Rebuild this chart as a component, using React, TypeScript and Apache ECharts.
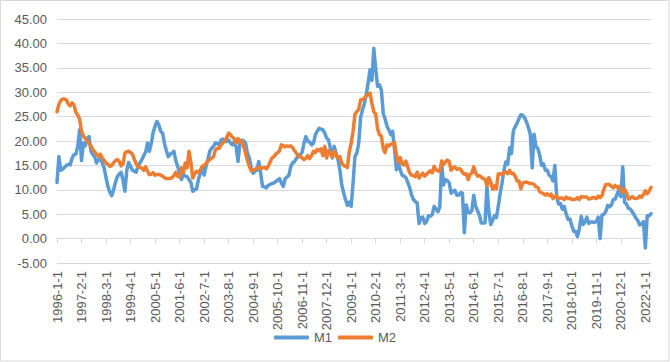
import React, { useEffect, useRef } from "react";
import * as echarts from "echarts";

// Monthly YoY growth (%), 1996-01 .. 2022-04
const startYear = 1996;

const m1: number[] = [
  // 1996
  11.5, 16.8, 14.0, 14.2, 14.6, 15.0, 15.2, 15.1, 16.5, 17.2, 17.3, 18.9,
  // 1997
  22.3, 16.0, 19.6, 19.0, 20.6, 20.9, 17.9, 17.2, 16.8, 15.5, 16.2, 16.5,
  // 1998
  15.5, 14.5, 12.5, 10.7, 9.5, 8.8, 10.0, 11.5, 12.7, 13.2, 13.6, 12.0,
  // 1999
  9.7, 14.0, 15.6, 14.8, 14.0, 13.8, 13.6, 15.0, 15.5, 16.2, 17.0, 17.7,
  // 2000
  19.6, 17.9, 19.5, 21.8, 23.0, 24.0, 23.3, 22.0, 21.6, 19.5, 18.0, 16.8,
  // 2001
  17.3, 17.5, 17.9, 16.0, 14.8, 13.5, 12.1, 13.2, 12.8, 12.7, 12.1, 11.5,
  // 2002
  9.7, 10.0, 10.2, 12.1, 13.4, 14.5, 13.0, 14.8, 16.2, 17.9, 18.5, 18.9,
  // 2003
  19.6, 19.5, 19.2, 20.2, 20.4, 20.0, 19.9, 20.2, 19.6, 19.2, 19.9, 18.8,
  // 2004
  15.8, 19.6, 20.2, 20.0, 19.6, 17.5, 16.5, 14.5, 13.4, 13.8, 14.0, 15.8,
  // 2005
  13.4, 10.7, 10.6, 10.4, 10.9, 11.1, 11.3, 11.4, 11.7, 12.0, 12.3, 11.4,
  // 2006
  10.7, 12.3, 12.6, 13.0, 14.8, 15.5, 15.8, 16.5, 16.8, 17.2, 17.7, 19.6,
  // 2007
  20.9, 19.9, 19.8, 19.2, 19.5, 21.3, 22.0, 22.6, 22.4, 22.3, 21.6, 20.6,
  // 2008
  20.2, 18.5, 16.5, 18.9, 17.5, 16.2, 14.1, 11.0, 9.4, 8.0, 6.8, 7.5,
  // 2009
  6.6, 11.4, 16.8, 17.5, 19.5, 24.8, 26.4, 27.7, 29.5, 32.0, 34.6, 32.4,
  // 2010
  39.0, 34.8, 31.2, 31.5, 30.5, 25.7, 24.5, 23.0, 22.3, 21.3, 22.0, 18.2,
  // 2011
  14.1, 15.5, 14.1, 13.0, 12.8, 12.5, 11.5, 10.5, 9.0, 8.0, 7.6, 7.3,
  // 2012
  3.1, 4.3, 4.4, 3.1, 3.5, 4.7, 4.6, 4.9, 6.6, 6.1, 5.5, 6.5,
  // 2013
  15.3, 11.0, 12.1, 11.9, 11.4, 9.3, 9.7, 9.9, 8.9, 8.9, 9.4, 9.3,
  // 2014
  1.2, 6.9, 5.4, 5.3, 5.7, 8.9, 6.7, 5.7, 4.8, 3.2, 3.2, 3.2,
  // 2015
  10.6, 5.6, 2.9, 3.7, 4.7, 4.3, 6.6, 9.3, 11.4, 14.0, 15.7, 15.2,
  // 2016
  18.6, 17.4, 22.1, 22.9, 23.7, 24.6, 25.4, 25.3, 24.7, 23.9, 22.7, 21.4,
  // 2017
  14.5, 21.4, 18.8, 18.5, 17.0, 15.0, 15.3, 14.0, 14.0, 13.0, 12.7, 11.8,
  // 2018
  15.0, 8.5, 7.1, 7.2, 6.0, 6.6, 5.1, 3.9, 4.0, 2.7, 1.5, 1.5,
  // 2019
  0.4, 2.0, 4.6, 2.9, 3.4, 4.4, 3.1, 3.4, 3.4, 3.3, 3.5, 4.4,
  // 2020
  0.0, 4.8, 5.0, 5.5, 6.8, 6.5, 6.9, 8.0, 8.1, 9.1, 10.0, 8.6,
  // 2021
  14.7, 7.4, 7.1, 6.2, 6.1, 5.5, 4.9, 4.2, 3.7, 2.8, 3.0, 3.5,
  // 2022
  -1.9, 4.7, 4.7, 5.1,
];

const m2: number[] = [
  // 1996
  26.0, 27.5, 28.3, 28.6, 28.6, 28.4, 27.6, 27.2, 27.8, 27.4, 25.9, 25.3,
  // 1997
  24.5, 22.0, 21.0, 20.5, 20.0, 19.5, 19.0, 18.2, 17.8, 17.3, 16.9, 17.3,
  // 1998
  16.5, 16.0, 15.5, 15.2, 14.8, 15.0, 15.5, 16.0, 16.2, 15.8, 14.9, 15.3,
  // 1999
  17.5, 17.8, 17.9, 17.6, 17.3, 16.3, 15.3, 14.8, 14.6, 14.4, 14.0, 14.7,
  // 2000
  13.8, 13.1, 13.2, 13.5, 13.0, 13.1, 13.2, 13.0, 12.8, 12.5, 12.3, 12.3,
  // 2001
  12.3, 12.5, 12.9, 13.6, 12.8, 12.6, 14.5, 13.5, 15.5, 14.5, 17.9, 15.6,
  // 2002
  12.4, 13.2, 13.8, 13.6, 14.0, 14.8, 15.0, 15.3, 15.9, 16.2, 16.5, 16.8,
  // 2003
  18.2, 18.5, 18.5, 19.2, 19.6, 20.0, 20.7, 21.6, 21.3, 20.8, 20.5, 19.6,
  // 2004
  20.5, 19.8, 20.0, 18.8, 17.5, 16.0, 14.8, 13.9, 14.0, 14.2, 14.5, 14.6,
  // 2005
  14.3, 14.5, 14.6, 14.3, 14.8, 15.7, 16.5, 16.8, 17.3, 17.6, 18.0, 19.2,
  // 2006
  19.0, 18.8, 19.0, 18.9, 19.0, 18.6, 18.0, 17.5, 16.8, 16.9, 16.5, 16.2,
  // 2007
  16.5, 17.0, 16.4, 17.0, 17.9, 17.6, 18.3, 18.0, 18.4, 17.0, 18.9, 16.5,
  // 2008
  18.0, 17.5, 16.8, 17.9, 17.0, 16.5, 16.8, 15.5, 15.0, 14.8, 14.6, 17.8,
  // 2009
  19.5, 22.0, 25.5, 26.0, 26.5, 28.4, 28.5, 28.8, 29.3, 29.5, 29.8, 27.7,
  // 2010
  26.0, 25.5, 22.5, 21.3, 21.0, 18.5, 17.6, 19.2, 19.0, 19.3, 19.5, 19.7,
  // 2011
  17.2, 15.7, 16.6, 15.3, 15.1, 15.9, 14.7, 13.5, 13.0, 12.9, 12.7, 13.6,
  // 2012
  12.4, 13.0, 13.4, 12.8, 13.2, 13.6, 13.9, 13.5, 14.8, 14.1, 13.9, 13.8,
  // 2013
  15.9, 15.2, 15.7, 16.1, 15.8, 14.0, 14.5, 14.7, 14.2, 14.3, 14.2, 13.6,
  // 2014
  13.2, 13.3, 12.1, 13.2, 13.4, 14.7, 13.5, 12.8, 12.9, 12.6, 12.3, 12.2,
  // 2015
  10.8, 12.5, 11.6, 10.1, 10.8, 10.2, 13.3, 13.3, 13.1, 13.5, 13.7, 13.3,
  // 2016
  14.0, 13.3, 13.4, 12.8, 11.8, 11.8, 10.2, 11.4, 11.5, 11.6, 11.4, 11.3,
  // 2017
  11.3, 11.1, 10.6, 10.5, 9.6, 9.4, 9.2, 8.9, 9.2, 8.8, 9.1, 8.2,
  // 2018
  8.6, 8.8, 8.2, 8.3, 8.3, 8.0, 8.5, 8.2, 8.3, 8.0, 8.0, 8.1,
  // 2019
  8.4, 8.0, 8.6, 8.5, 8.5, 8.5, 8.1, 8.2, 8.4, 8.4, 8.2, 8.7,
  // 2020
  8.4, 8.8, 10.1, 11.1, 11.1, 11.1, 10.7, 10.4, 10.9, 10.5, 10.7, 10.1,
  // 2021
  9.4, 10.1, 9.4, 8.1, 8.3, 8.6, 8.3, 8.2, 8.3, 8.7, 8.5, 9.0,
  // 2022
  9.8, 9.2, 9.7, 10.5,
];

const seriesNames = ["M1", "M2"];
const seriesColors = ["#5B9BD5", "#ED7D31"];

const categories: string[] = m1.map(
  (_, k) => `${startYear + Math.floor(k / 12)}-${(k % 12) + 1}-1`
);

const FONT = "'Liberation Sans', Arial, sans-serif";

export default function App() {
  const ref = useRef<HTMLDivElement>(null);
  useEffect(() => {
    if (!ref.current) return;
    const chart = echarts.init(ref.current, undefined, { renderer: "svg" });
    chart.setOption({
      animation: false,
      backgroundColor: "#ffffff",
      textStyle: { fontFamily: FONT },
      graphic: [
        {
          type: "rect",
          shape: { x: 0.5, y: 0.5, width: 668.5, height: 360.5 },
          style: { fill: "none", stroke: "#d9d9d9", lineWidth: 1 },
          silent: true,
        },
      ],
      grid: { left: 57, right: 19, top: 19, bottom: 99, containLabel: false },
      legend: {
        data: seriesNames,
        bottom: 13,
        left: "center",
        icon: "roundRect",
        itemWidth: 35,
        itemHeight: 4,
        itemGap: 6,
        textStyle: { color: "#595959", fontSize: 13, fontFamily: FONT },
      },
      xAxis: {
        type: "category",
        data: categories,
        boundaryGap: false,
        axisLine: { onZero: true, lineStyle: { color: "#d9d9d9", width: 1 } },
        axisTick: { show: true, interval: 12, length: 5, lineStyle: { color: "#d9d9d9" } },
        axisLabel: {
          interval: 12,
          rotate: 90,
          margin: 8,
          color: "#595959",
          fontSize: 13,
          fontFamily: FONT,
        },
        splitLine: { show: false },
      },
      yAxis: {
        type: "value",
        min: -5,
        max: 45,
        interval: 5,
        axisLine: { show: false },
        axisTick: { show: false },
        axisLabel: {
          color: "#595959",
          fontSize: 13,
          margin: 10,
          fontFamily: FONT,
          formatter: (v: number) => v.toFixed(2),
        },
        splitLine: { lineStyle: { color: "#d9d9d9", width: 1 } },
      },
      series: [
        {
          name: seriesNames[0],
          type: "line",
          data: m1,
          showSymbol: false,
          symbol: "none",
          lineStyle: { color: seriesColors[0], width: 3.5, cap: "round", join: "round" },
          itemStyle: { color: seriesColors[0] },
          z: 2,
        },
        {
          name: seriesNames[1],
          type: "line",
          data: m2,
          showSymbol: false,
          symbol: "none",
          lineStyle: { color: seriesColors[1], width: 3.5, cap: "round", join: "round" },
          itemStyle: { color: seriesColors[1] },
          z: 3,
        },
      ],
    });
    return () => chart.dispose();
  }, []);
  return (
    <div
      ref={ref}
      style={{ position: "fixed", left: 0, top: 0, width: 670, height: 362 }}
    />
  );
}
